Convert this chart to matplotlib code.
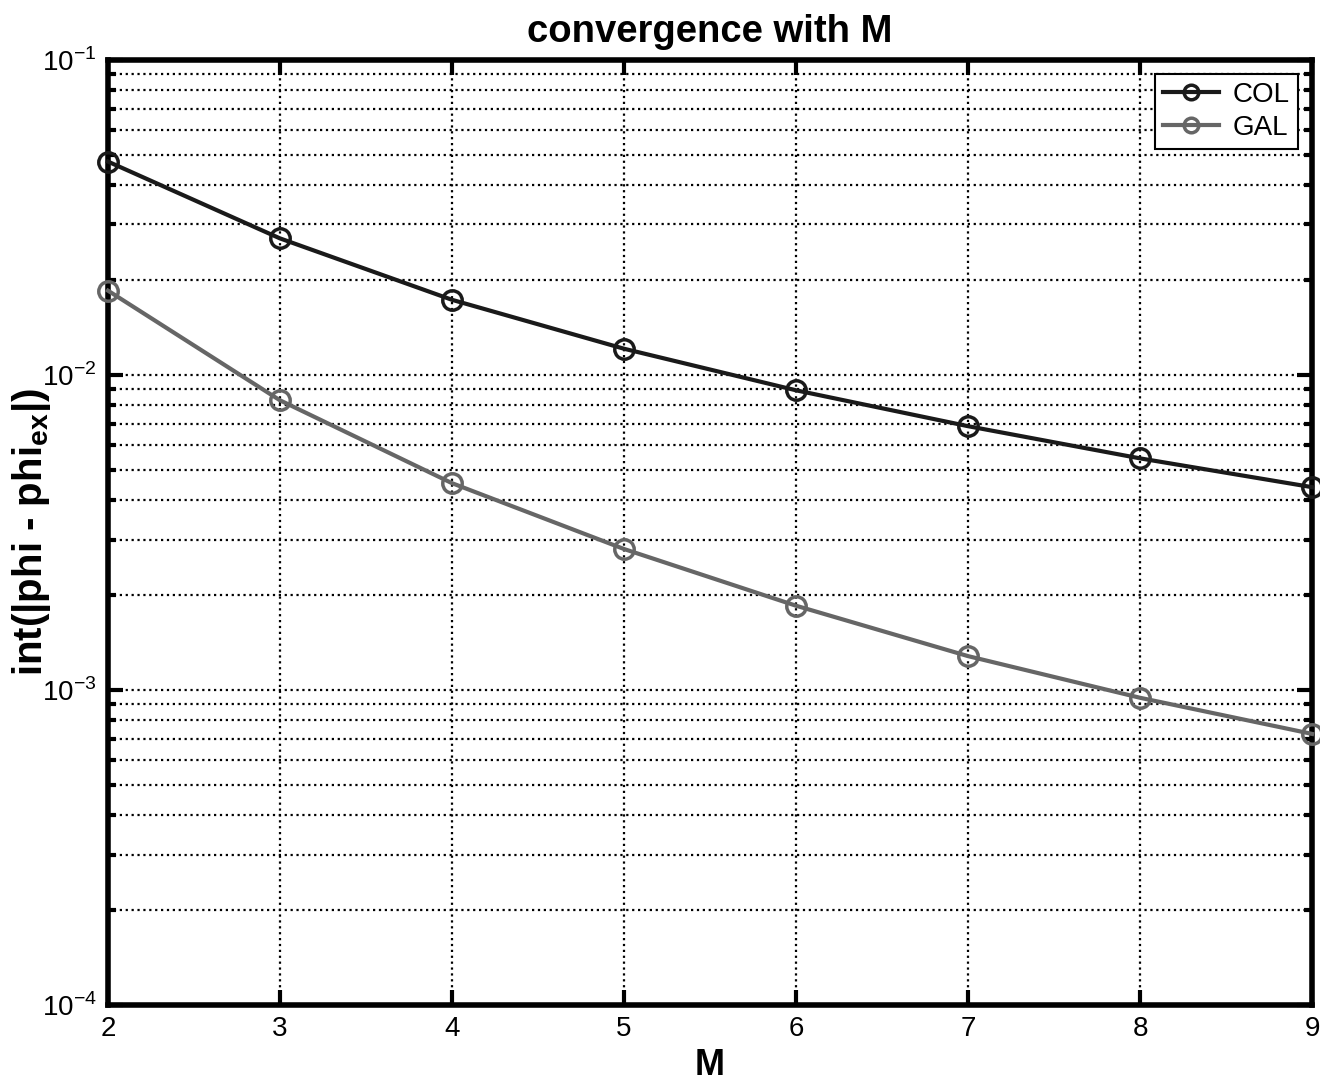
import numpy as np
import matplotlib
matplotlib.use('Agg')
import matplotlib.pyplot as plt
from matplotlib.ticker import LogLocator, NullFormatter, FuncFormatter

plt.rcParams['font.family'] = ['Liberation Sans', 'DejaVu Sans']
plt.rcParams['mathtext.fontset'] = 'custom'
plt.rcParams['mathtext.rm'] = 'Liberation Sans'
plt.rcParams['mathtext.bf'] = 'Liberation Sans:bold'

# данные
M = [2, 3, 4, 5, 6, 7, 8, 9]
err_col = [0.0475, 0.0271, 0.0173, 0.0121, 0.00893, 0.00687, 0.00543, 0.00440]
err_gal = [0.0185, 0.0083, 0.00453, 0.0028, 0.00185, 0.00128, 0.000944, 0.000725]

fig = plt.figure(figsize=(13.2, 10.86), dpi=100)
ax = fig.add_axes([0.0818, 0.0746, 0.9122, 0.8704])

ax.semilogy(M, err_col, '-o', color='#1a1a1a', lw=3, ms=14, mfc='none',
            mew=2.5, label='COL', clip_on=False, zorder=3)
ax.semilogy(M, err_gal, '-o', color='#666666', lw=3, ms=14, mfc='none',
            mew=2.5, label='GAL', clip_on=False, zorder=3)

ax.set_xlim(2, 9)
ax.set_ylim(1e-4, 1e-1)
ax.set_xticks(M)
ax.yaxis.set_major_locator(LogLocator(base=10))
ax.yaxis.set_major_formatter(FuncFormatter(
    lambda v, p: r'10$^{\mathregular{-%d}}$' % round(-np.log10(v))))
ax.yaxis.set_minor_locator(LogLocator(base=10, subs=np.arange(2, 10)))
ax.yaxis.set_minor_formatter(NullFormatter())

ax.grid(True, which='major', ls=':', lw=1.6, color='black')
ax.grid(True, which='minor', axis='y', ls=':', lw=1.6, color='black')

ax.tick_params(which='both', direction='in', top=True, right=True,
               labelsize=20, pad=8)
ax.tick_params(which='major', length=11, width=3)
ax.tick_params(which='minor', length=6, width=3)
for s in ax.spines.values():
    s.set_linewidth(4)

ax.set_title('convergence with M', fontsize=27.5, fontweight='bold', pad=13)
ax.set_xlabel('M', fontsize=26, fontweight='bold', labelpad=4)
ax.set_ylabel(r'int(|phi - phi$_{\mathbf{ex}}$|)', fontsize=29,
              fontweight='bold')
ax.yaxis.set_label_coords(-0.046, 0.5)

leg = ax.legend(loc='upper right', fontsize=20, fancybox=False,
                edgecolor='black', framealpha=1, handlelength=2.0,
                handletextpad=0.5, labelspacing=0.25, markerscale=0.75,
                borderaxespad=0.5, borderpad=0.3)
leg.get_frame().set_linewidth(1.5)

plt.savefig('out.png', dpi=100)
